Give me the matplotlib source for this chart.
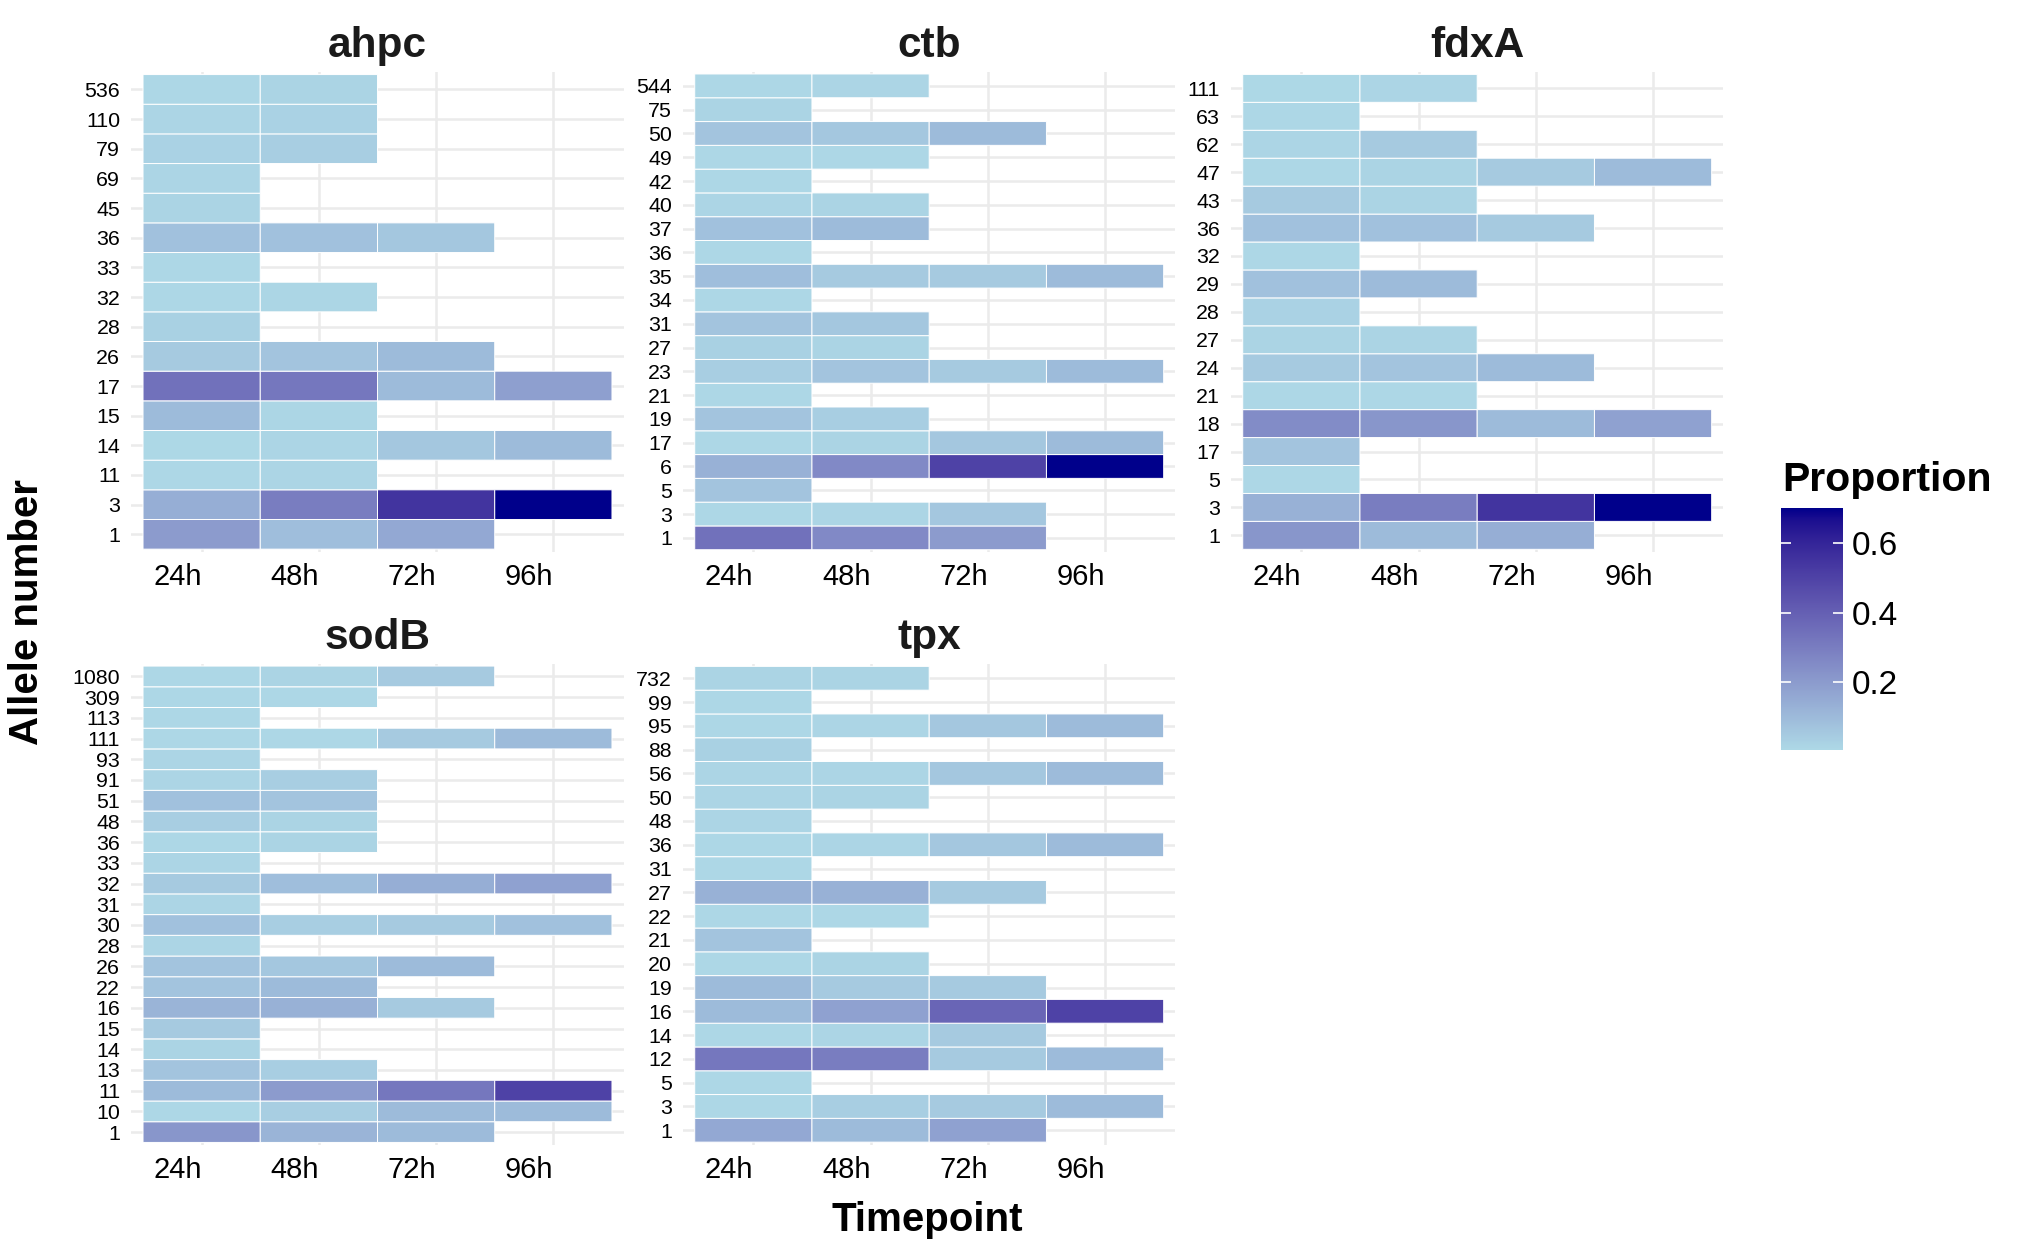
import numpy as np
import matplotlib
matplotlib.use('Agg')
import matplotlib.pyplot as plt
from matplotlib.colors import ListedColormap, Normalize

plt.rcParams['font.family'] = ['Liberation Sans', 'DejaVu Sans']

timepoints = ['24h', '48h', '72h', '96h']

# alleles bottom -> top, one row per allele, None = no tile
ahpc_alleles = [1, 3, 11, 14, 15, 17, 26, 28, 32, 33, 36, 45, 69, 79, 110, 536]
ahpc_props = [
    [0.20, 0.09, 0.16, None],
    [0.14, 0.30, 0.55, 0.70],
    [0.01, 0.015, None, None],
    [0.008, 0.015, 0.06, 0.10],
    [0.10, 0.012, None, None],
    [0.34, 0.32, 0.10, 0.19],
    [0.05, 0.07, 0.10, None],
    [0.03, None, None, None],
    [0.01, 0.012, None, None],
    [0.01, None, None, None],
    [0.08, 0.08, 0.06, None],
    [0.02, None, None, None],
    [0.015, None, None, None],
    [0.025, 0.04, None, None],
    [0.015, 0.025, None, None],
    [0.01, 0.02, None, None],
]

ctb_alleles = [1, 3, 5, 6, 17, 19, 21, 23, 27, 31, 34, 35, 36, 37, 40, 42, 49, 50, 75, 544]
ctb_props = [
    [0.34, 0.26, 0.20, None],
    [0.01, 0.015, 0.06, None],
    [0.07, None, None, None],
    [0.13, 0.26, 0.50, 0.70],
    [0.01, 0.02, 0.06, 0.10],
    [0.07, 0.04, None, None],
    [0.01, None, None, None],
    [0.04, 0.07, 0.05, 0.10],
    [0.03, 0.02, None, None],
    [0.07, 0.06, None, None],
    [0.01, None, None, None],
    [0.09, 0.05, 0.05, 0.10],
    [0.01, None, None, None],
    [0.08, 0.10, None, None],
    [0.015, 0.02, None, None],
    [0.01, None, None, None],
    [0.01, 0.01, None, None],
    [0.07, 0.06, 0.10, None],
    [0.02, None, None, None],
    [0.01, 0.015, None, None],
]

fdxA_alleles = [1, 3, 5, 17, 18, 21, 24, 27, 28, 29, 32, 36, 43, 47, 62, 63, 111]
fdxA_props = [
    [0.22, 0.10, 0.14, None],
    [0.13, 0.30, 0.55, 0.70],
    [0.01, None, None, None],
    [0.07, None, None, None],
    [0.25, 0.22, 0.10, 0.18],
    [0.01, 0.01, None, None],
    [0.05, 0.07, 0.10, None],
    [0.02, 0.02, None, None],
    [0.025, None, None, None],
    [0.08, 0.10, None, None],
    [0.01, None, None, None],
    [0.08, 0.08, 0.05, None],
    [0.05, 0.02, None, None],
    [0.01, 0.02, 0.05, 0.10],
    [0.015, 0.05, None, None],
    [0.01, None, None, None],
    [0.006, 0.015, None, None],
]

sodB_alleles = [1, 10, 11, 13, 14, 15, 16, 22, 26, 28, 30, 31, 32, 33, 36, 48, 51,
                91, 93, 111, 113, 309, 1080]
sodB_props = [
    [0.22, 0.12, 0.10, None],
    [0.01, 0.04, 0.10, 0.10],
    [0.10, 0.20, 0.32, 0.50],
    [0.07, 0.04, None, None],
    [0.02, None, None, None],
    [0.05, None, None, None],
    [0.12, 0.13, 0.05, None],
    [0.07, 0.10, None, None],
    [0.07, 0.06, 0.10, None],
    [0.015, None, None, None],
    [0.08, 0.04, 0.05, 0.08],
    [0.015, None, None, None],
    [0.05, 0.09, 0.14, 0.18],
    [0.015, None, None, None],
    [0.01, 0.02, None, None],
    [0.04, 0.02, None, None],
    [0.08, 0.07, None, None],
    [0.015, 0.04, None, None],
    [0.015, None, None, None],
    [0.01, 0.01, 0.05, 0.10],
    [0.01, None, None, None],
    [0.01, 0.01, None, None],
    [0.01, 0.02, 0.05, None],
]

tpx_alleles = [1, 3, 5, 12, 14, 16, 19, 20, 21, 22, 27, 31, 36, 48, 50, 56, 88, 95, 99, 732]
tpx_props = [
    [0.16, 0.10, 0.18, None],
    [0.01, 0.04, 0.05, 0.10],
    [0.01, None, None, None],
    [0.32, 0.30, 0.05, 0.10],
    [0.01, 0.015, 0.05, None],
    [0.10, 0.18, 0.38, 0.50],
    [0.10, 0.05, 0.05, None],
    [0.01, 0.02, None, None],
    [0.07, None, None, None],
    [0.01, 0.01, None, None],
    [0.13, 0.13, 0.05, None],
    [0.01, None, None, None],
    [0.01, 0.015, 0.06, 0.10],
    [0.015, None, None, None],
    [0.015, 0.02, None, None],
    [0.015, 0.015, 0.06, 0.10],
    [0.03, None, None, None],
    [0.01, 0.015, 0.06, 0.10],
    [0.01, None, None, None],
    [0.02, 0.02, None, None],
]

genes = ['ahpc', 'ctb', 'fdxA', 'sodB', 'tpx']
alleles = [ahpc_alleles, ctb_alleles, fdxA_alleles, sodB_alleles, tpx_alleles]
props = [ahpc_props, ctb_props, fdxA_props, sodB_props, tpx_props]


# gradient lightblue -> darkblue interpolated in CIELAB (like ggplot)
M = np.array([[0.4124, 0.3576, 0.1805],
              [0.2126, 0.7152, 0.0722],
              [0.0193, 0.1192, 0.9505]])
WHITE = np.array([0.95047, 1.0, 1.08883])


def to_lab(rgb):
    c = np.asarray(rgb, float)
    lin = np.where(c <= 0.04045, c / 12.92, ((c + 0.055) / 1.055) ** 2.4)
    xyz = M @ lin / WHITE
    f = np.where(xyz > 0.008856, np.cbrt(xyz), 7.787 * xyz + 16 / 116)
    return np.array([116 * f[1] - 16, 500 * (f[0] - f[1]), 200 * (f[1] - f[2])])


def from_lab(lab):
    L, a, b = lab
    fy = (L + 16) / 116
    f = np.array([fy + a / 500, fy, fy - b / 200])
    xyz = np.where(f ** 3 > 0.008856, f ** 3, (f - 16 / 116) / 7.787) * WHITE
    lin = np.linalg.solve(M, xyz)
    lin = np.clip(lin, 0, 1)
    c = np.where(lin <= 0.0031308, 12.92 * lin, 1.055 * lin ** (1 / 2.4) - 0.055)
    return np.clip(c, 0, 1)


lo = to_lab(np.array([173, 216, 230]) / 255)
hi = to_lab(np.array([0, 0, 139]) / 255)
cmap = ListedColormap([from_lab(lo + t * (hi - lo)) for t in np.linspace(0, 1, 256)])

all_vals = [v for p in props for row in p for v in row if v is not None]
norm = Normalize(vmin=min(all_vals), vmax=max(all_vals))

W, H = 2038, 1254
fig = plt.figure(figsize=(W / 100, H / 100), dpi=100)

lefts = [131.3, 683, 1231, 131.3, 683]
tops = [71.6, 71.6, 71.6, 664, 664]
pw, ph = 492.4, 480.5

for i, gene in enumerate(genes):
    ax = fig.add_axes([lefts[i] / W, 1 - (tops[i] + ph) / H, pw / W, ph / H])
    al = alleles[i]
    data = np.array([[np.nan if v is None else v for v in row] for row in props[i]])
    data = np.ma.masked_invalid(data)
    xe = np.arange(len(timepoints) + 1) - 0.5
    ye = np.arange(len(al) + 1) - 0.5
    ax.pcolor(xe, ye, data, cmap=cmap, norm=norm, edgecolors='white', linewidth=0.7)

    ax.set_xlim(-0.6, len(timepoints) - 0.4)
    ax.set_ylim(-0.6, len(al) - 0.4)
    ax.set_xticks(range(len(timepoints)))
    ax.set_xticklabels(timepoints, fontsize=21, ha='right')
    ax.set_yticks(range(len(al)))
    ax.set_yticklabels([str(a) for a in al], fontsize=15.4)
    ax.tick_params(axis='x', length=0, pad=8)
    ax.tick_params(axis='y', length=0, pad=8)
    ax.grid(True, color='#EBEBEB', linewidth=1.8)
    ax.set_axisbelow(True)
    for s in ax.spines.values():
        s.set_visible(False)
    ax.set_title(gene, fontsize=30.5, fontweight='bold', pad=10.5, color='#1a1a1a')

fig.text(27 / W, 1 - 612 / H, 'Allele number', rotation=90, fontsize=29,
         fontweight='bold', ha='center', va='center')
fig.text(927 / W, 1 - 1220 / H, 'Timepoint', fontsize=29, fontweight='bold',
         ha='center', va='center')

# colour bar legend
cax = fig.add_axes([1781 / W, 1 - 750 / H, 62 / W, 242 / H])
sm = plt.cm.ScalarMappable(norm=norm, cmap=cmap)
cb = fig.colorbar(sm, cax=cax, ticks=[0.2, 0.4, 0.6])
cb.outline.set_visible(False)
cb.ax.set_yticklabels(['0.2', '0.4', '0.6'], fontsize=24)
cb.ax.yaxis.set_ticks_position('both')
cb.ax.tick_params(direction='in', color='white', length=7, width=1.2, pad=6,
                  labelleft=False, labelright=True)
fig.text(1782 / W, 1 - 480 / H, 'Proportion', fontsize=29.5, fontweight='bold',
         ha='left', va='center')

fig.savefig('out.png', dpi=100)
